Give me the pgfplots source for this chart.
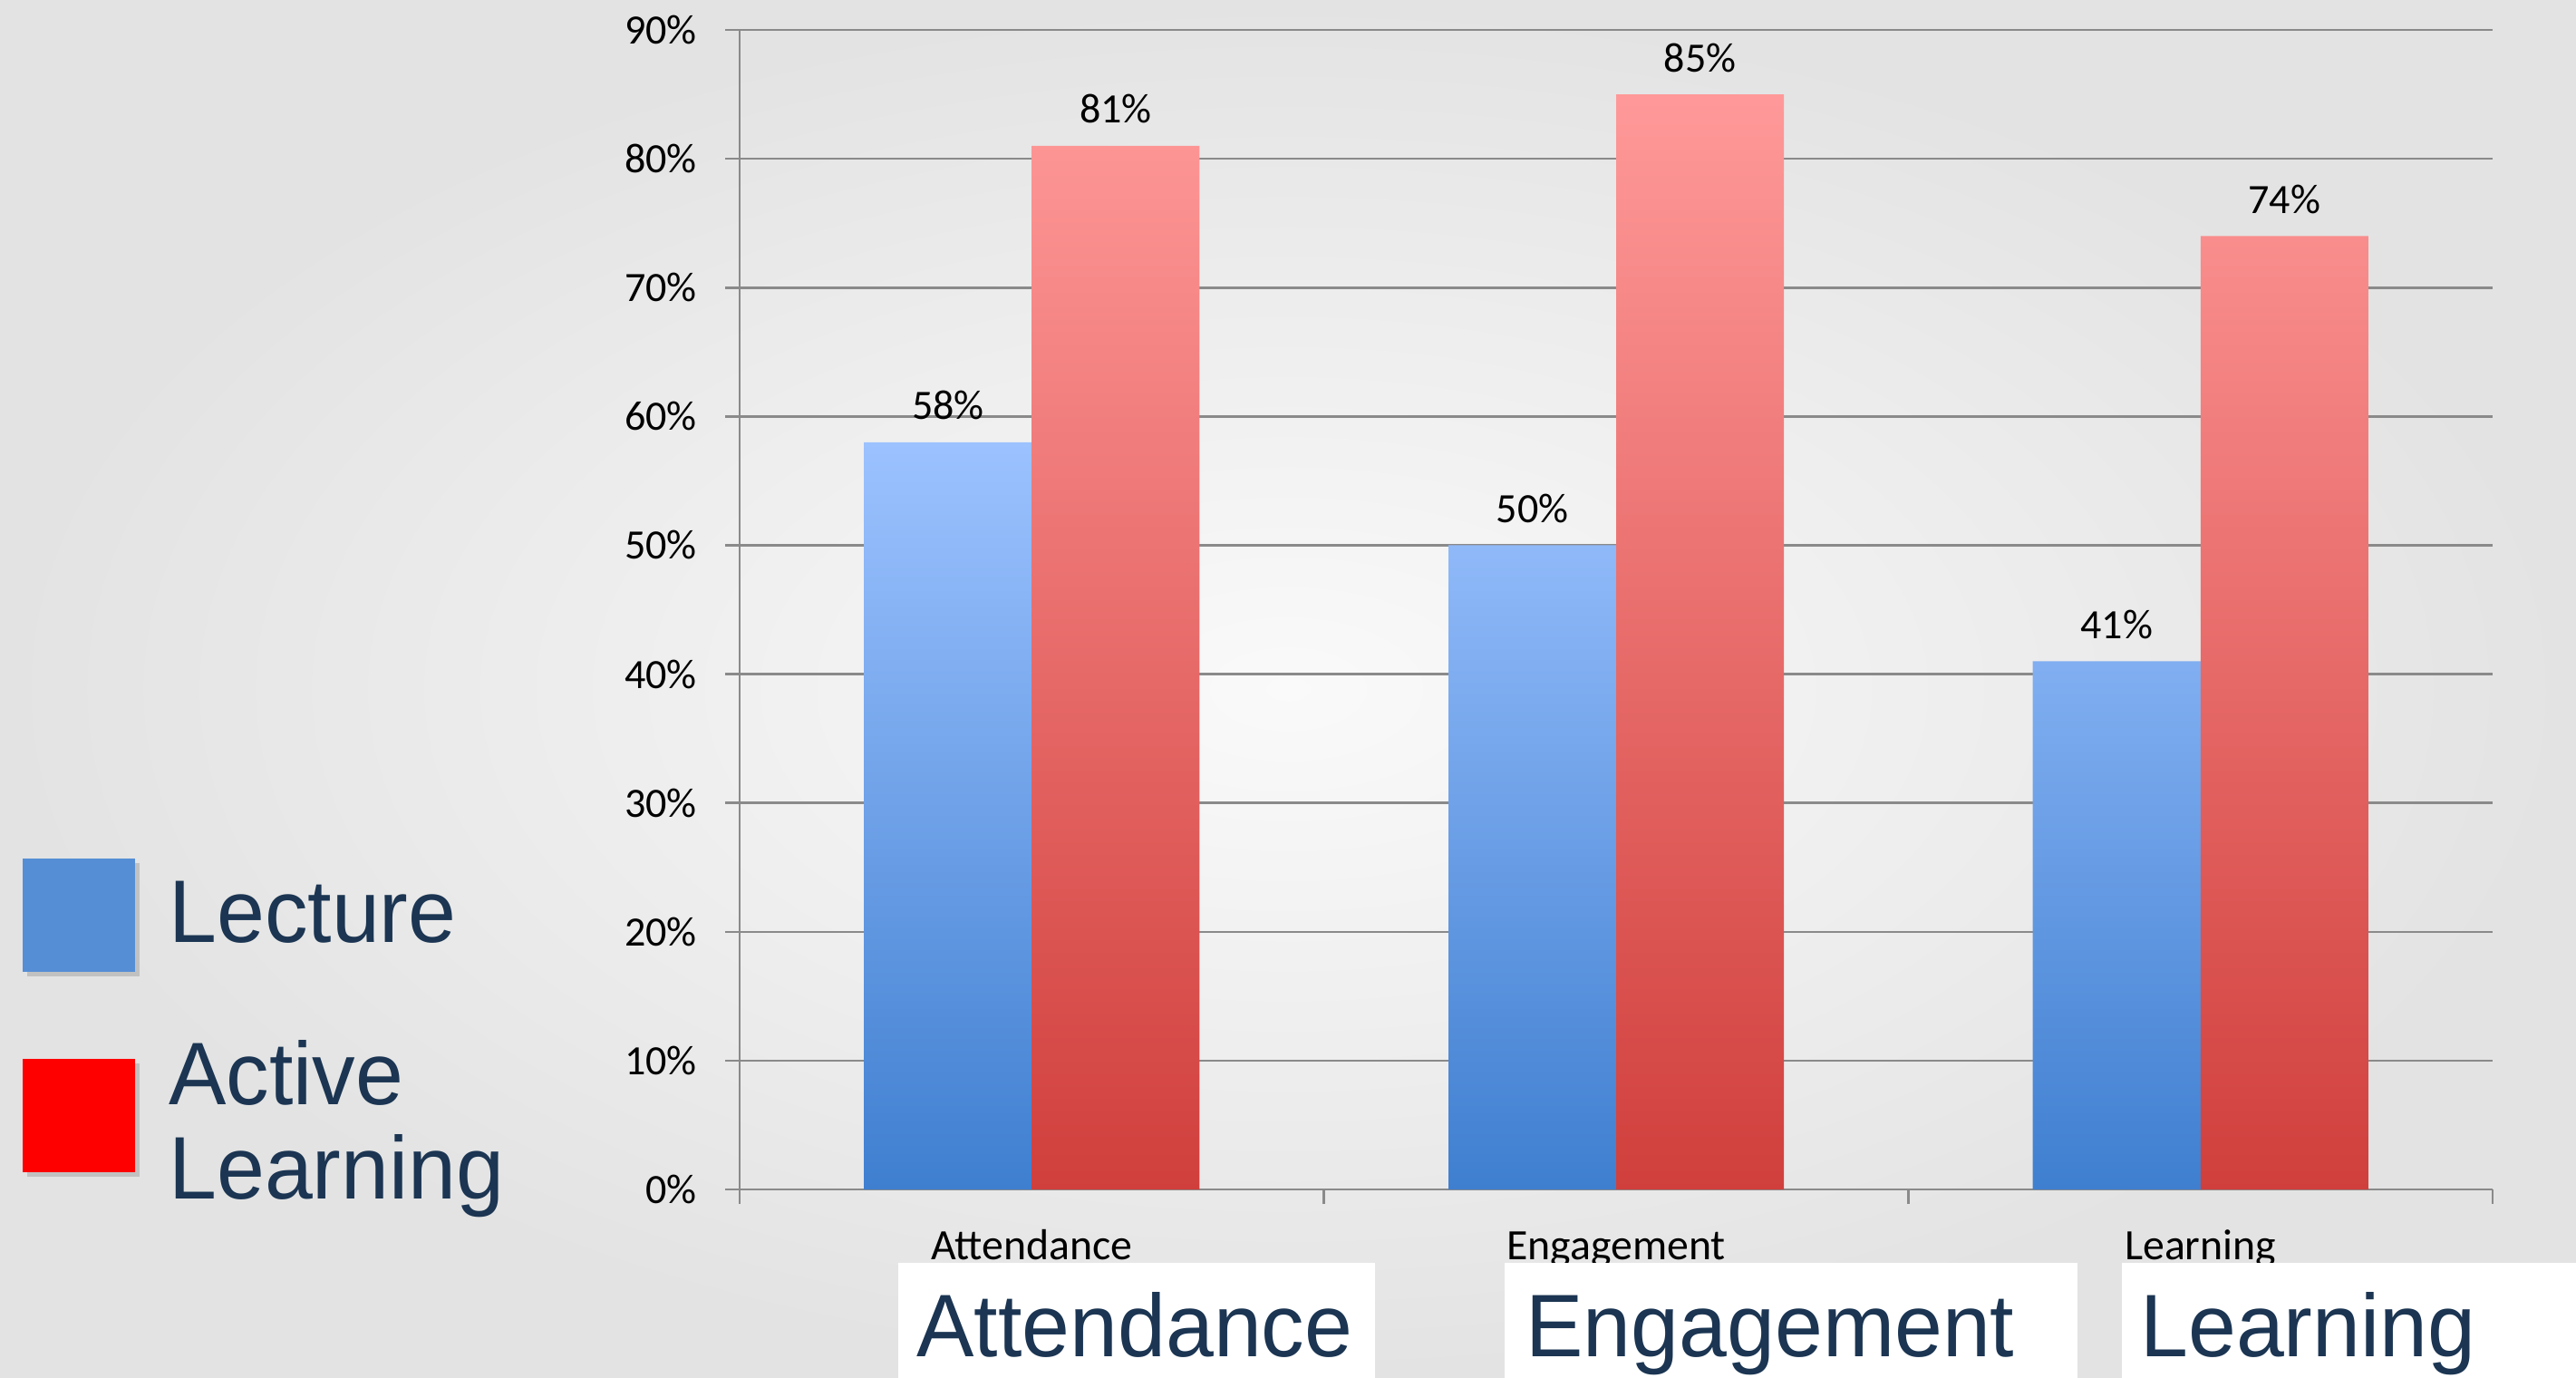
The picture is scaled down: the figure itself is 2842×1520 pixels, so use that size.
\documentclass[border=0pt]{standalone}
\usepackage{pgfplots}
\pgfplotsset{compat=1.18}
\usepackage{fontspec}
\setmainfont{Carlito}
\newfontfamily\slidefont[FakeStretch=0.97]{Liberation Sans}
\definecolor{navy}{HTML}{1B3552}
\definecolor{axisgray}{HTML}{8A8A8A}
\definecolor{legblue}{HTML}{558ED5}
\definecolor{lecbot}{HTML}{3F7FD0}
\definecolor{lecmid}{HTML}{7AA7EC}
\definecolor{lectop}{HTML}{9CC2FF}
\definecolor{actbot}{HTML}{D03F3C}
\definecolor{actmid}{HTML}{E56B69}
\definecolor{acttop}{HTML}{FF9999}
\newcommand\smallf{\fontsize{6.55}{7.8}\selectfont}
\newcommand\bigf{\slidefont\fontsize{13.94}{16.7}\selectfont}
\begin{document}
\begin{tikzpicture}
% slide background, 1 unit = 1 px of the reference
\begin{scope}[x=0.05mm,y=-0.05mm]
  \shade[use as bounding box, inner color=white!98!black, outer color=white!89!black]
    (0,0) rectangle (2842,1520);
\end{scope}

\begin{axis}[
  at={(40.8mm,-65.6mm)}, anchor=south west,
  scale only axis, width=96.7mm, height=63.95mm,
  ybar=0pt, bar width=9.25mm,
  xmin=-0.5, xmax=2.5, ymin=0, ymax=90,
  axis x line*=bottom, axis y line*=left,
  axis line style={-, draw=axisgray, line width=0.125mm},
  tick align=outside,
  xtick={0,1,2}, xticklabels={Attendance,Engagement,Learning},
  major x tick style={draw=none},
  extra x ticks={-0.5,0.5,1.5,2.5}, extra x tick labels={},
  extra x tick style={major tick length=0.8mm,
    major x tick style={draw=axisgray, line width=0.125mm}, xmajorgrids=false},
  ytick={0,10,...,90},
  yticklabels={0\%,10\%,20\%,30\%,40\%,50\%,60\%,70\%,80\%,90\%},
  major tick length=0.8mm,
  major y tick style={draw=axisgray, line width=0.125mm},
  ymajorgrids, major grid style={draw=axisgray, line width=0.125mm},
  ticklabel style={font=\smallf, text=black, inner sep=0pt},
  yticklabel style={anchor=east, xshift=-1.5mm},
  xticklabel style={anchor=base, yshift=-3.05mm, font=\fontsize{6.8}{8}\selectfont},
  /pgf/number format/assume math mode=true,
  nodes near coords={\pgfmathprintnumber{\pgfplotspointmeta}\%},
  every node near coord/.append style={anchor=base, yshift=1.25mm,
    inner sep=0pt, font=\smallf, text=black},
]
\addplot[draw=none, bottom color=lecbot, middle color=lecmid, top color=lectop]
  coordinates {(0,58) (1,50) (2,41)};
\addplot[draw=none, bottom color=actbot, middle color=actmid, top color=acttop]
  coordinates {(0,81) (1,85) (2,74)};
\end{axis}

\begin{scope}[x=0.05mm,y=-0.05mm]
  % legend
  \fill[black!40, opacity=0.45] (30,952) rectangle (154,1077);
  \fill[legblue] (25,947) rectangle (149,1072);
  \fill[black!40, opacity=0.45] (30,1173) rectangle (154,1298);
  \fill[red] (25,1168) rectangle (149,1293);
  \node[anchor=base west, inner sep=0pt, font=\bigf, text=navy] at (185,1040) {Lecture};
  \node[anchor=base west, inner sep=0pt, font=\bigf, text=navy] at (185,1219) {Active};
  \node[anchor=base west, inner sep=0pt, font=\bigf, text=navy] at (185,1323) {Learning};
  % white caption boxes
  \fill[white] (991,1393) rectangle (1517,1520);
  \fill[white] (1660,1393) rectangle (2292,1520);
  \fill[white] (2341,1393) rectangle (2842,1520);
  \node[anchor=base west, inner sep=0pt, font=\bigf, text=navy] at (1010,1497) {Attendance};
  \node[anchor=base west, inner sep=0pt, font=\bigf, text=navy] at (1682,1497) {Engagement};
  \node[anchor=base west, inner sep=0pt, font=\bigf, text=navy] at (2360,1497) {Learning};
\end{scope}
\end{tikzpicture}
\end{document}
